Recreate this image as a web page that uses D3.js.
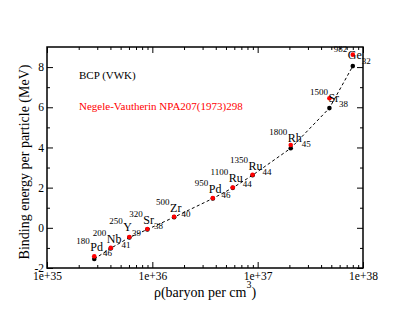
<!DOCTYPE html>
<html lang="en">
<head>
    <title>Binding energy per particle</title>
    <script src="https://d3js.org/d3.v7.min.js"></script>
    <style>
        body { margin: 0; background: #fff; }
        svg text { font-family: "Liberation Serif", "DejaVu Serif", serif !important; }
    </style>
</head>
<body>
    <script>
        // nuclides along the outer crust sequence
        const nuclide   = ["Pd", "Nb", "Y", "Sr", "Zr", "Pd", "Ru", "Ru", "Rh", "Sr", "Ge"];
        const massNum   = [180, 200, 250, 320, 500, 950, 1100, 1350, 1800, 1500, 982];
        const protonNum = [46, 41, 39, 38, 40, 46, 44, 44, 45, 38, 32];

        // baryon density (per cm^3)
        const rho = [2.81e35, 4.03e35, 6.05e35, 8.97e35, 1.61e36, 3.75e36, 5.8e36, 8.95e36, 2.06e37, 4.8e37, 8.0e37];
        // Negele-Vautherin (red) and BCP (black) binding energy per particle, MeV
        const eNV  = [-1.42, -1.00, -0.46, -0.06, 0.55, 1.48, 2.01, 2.64, 4.12, 6.45, 8.62];
        const eBCP = [-1.55, -1.02, -0.48, -0.08, 0.53, 1.46, 1.99, 2.62, 3.96, 5.96, 8.05];

        const xMajor = [1e35, 1e36, 1e37, 1e38];
        const yMajor = [-2, 0, 2, 4, 6, 8];
        const yMinor = [-1, 1, 3, 5, 7];

        const W = 409, H = 316;
        const margin = {top: 47, right: 46, bottom: 48, left: 47};
        const width = W - margin.left - margin.right;
        const height = H - margin.top - margin.bottom;
        const serif = "'Liberation Serif', 'DejaVu Serif', serif";

        const svg = d3.select("body").append("svg")
            .attr("width", W)
            .attr("height", H)
            .attr("font-family", serif);

        const g = svg.append("g")
            .attr("transform", "translate(" + margin.left + "," + margin.top + ")");

        const x = d3.scaleLog().domain([1e35, 1e38]).range([0, width]);
        const y = d3.scaleLinear().domain([-2, 9]).range([height, 0]);

        // minor log ticks 2..9 per decade
        const xMinor = [];
        for (let e = 35; e < 38; e++) {
            for (let m = 2; m <= 9; m++) xMinor.push(m * Math.pow(10, e));
        }

        function styleAxis(sel) {
            sel.attr("font-family", serif).attr("font-size", 11.5);
            sel.select(".domain").remove();
            sel.selectAll("line").attr("stroke", "#000").attr("stroke-width", 1);
            sel.selectAll("text").attr("fill", "#000");
        }

        // bottom axis
        g.append("g").attr("transform", "translate(0," + height + ")")
            .call(d3.axisBottom(x).tickValues(xMajor).tickSize(-6).tickPadding(4)
                .tickFormat(d => "1e+" + Math.round(Math.log10(d))))
            .call(styleAxis);
        g.append("g").attr("transform", "translate(0," + height + ")")
            .call(d3.axisBottom(x).tickValues(xMinor).tickSize(-3).tickFormat(""))
            .call(styleAxis);
        // top axis
        g.append("g")
            .call(d3.axisTop(x).tickValues(xMajor).tickSize(-6).tickFormat(""))
            .call(styleAxis);
        g.append("g")
            .call(d3.axisTop(x).tickValues(xMinor).tickSize(-3).tickFormat(""))
            .call(styleAxis);
        // left axis
        g.append("g")
            .call(d3.axisLeft(y).tickValues(yMajor).tickSize(-6).tickPadding(3).tickFormat(d => String(d)))
            .call(styleAxis);
        g.append("g")
            .call(d3.axisLeft(y).tickValues(yMinor).tickSize(-3).tickFormat(""))
            .call(styleAxis);
        // right axis
        g.append("g").attr("transform", "translate(" + width + ",0)")
            .call(d3.axisRight(y).tickValues(yMajor).tickSize(-6).tickFormat(""))
            .call(styleAxis);
        g.append("g").attr("transform", "translate(" + width + ",0)")
            .call(d3.axisRight(y).tickValues(yMinor).tickSize(-3).tickFormat(""))
            .call(styleAxis);

        // frame
        g.append("rect")
            .attr("width", width).attr("height", height)
            .attr("fill", "none").attr("stroke", "#000").attr("stroke-width", 1.5);

        // dashed BCP line
        const pts = rho.map((r, i) => ({r: r, b: eBCP[i], n: eNV[i]}));
        g.append("path")
            .datum(pts)
            .attr("fill", "none")
            .attr("stroke", "#000")
            .attr("stroke-width", 1)
            .attr("stroke-dasharray", "3,2.5")
            .attr("d", d3.line().x(d => x(d.r)).y(d => y(d.b)));

        g.selectAll(".bcp").data(pts).enter().append("circle")
            .attr("class", "bcp")
            .attr("cx", d => x(d.r)).attr("cy", d => y(d.b))
            .attr("r", 2.3).attr("fill", "#000");

        g.selectAll(".nv").data(pts).enter().append("circle")
            .attr("class", "nv")
            .attr("cx", d => x(d.r)).attr("cy", d => y(d.n))
            .attr("r", 2.3).attr("fill", "#ff0000");

        // nuclide labels: superscript A, symbol, subscript Z
        const labelShift = {2: [-6, -6], 8: [-3, -3], 9: [-1, 4], 10: [-5, 4]};
        nuclide.forEach((el, i) => {
            const s = labelShift[i] || [-4, -5];
            const lx = x(rho[i]) + s[0];
            const ly = y(eNV[i]) + s[1];
            g.append("text")
                .attr("x", lx - 0.5).attr("y", ly - 7)
                .attr("text-anchor", "end")
                .attr("font-size", 9)
                .text(massNum[i]);
            const t = g.append("text")
                .attr("x", lx).attr("y", ly)
                .attr("font-size", 12);
            t.append("tspan").text(el);
            t.append("tspan").attr("dy", 5).attr("font-size", 9).text(protonNum[i]);
        });

        // legend texts
        g.append("text")
            .attr("x", 79 - margin.left).attr("y", 79 - margin.top)
            .attr("font-size", 11).attr("fill", "#000")
            .text("BCP (VWK)");
        g.append("text")
            .attr("x", 79 - margin.left).attr("y", 110 - margin.top)
            .attr("font-size", 11).attr("fill", "#ff0000")
            .text("Negele-Vautherin NPA207(1973)298");

        // axis titles
        const xt = svg.append("text")
            .attr("x", margin.left + width / 2).attr("y", 297)
            .attr("text-anchor", "middle")
            .attr("font-size", 14);
        xt.append("tspan").text("\u03c1(baryon per cm");
        xt.append("tspan").attr("dy", -9).attr("font-size", 10).text("3");
        xt.append("tspan").attr("dy", 9).text(")");

        svg.append("text")
            .attr("transform", "translate(28.5,162) rotate(-90)")
            .attr("text-anchor", "middle")
            .attr("font-size", 14)
            .text("Binding energy per particle (MeV)");
    </script>
</body>
</html>
